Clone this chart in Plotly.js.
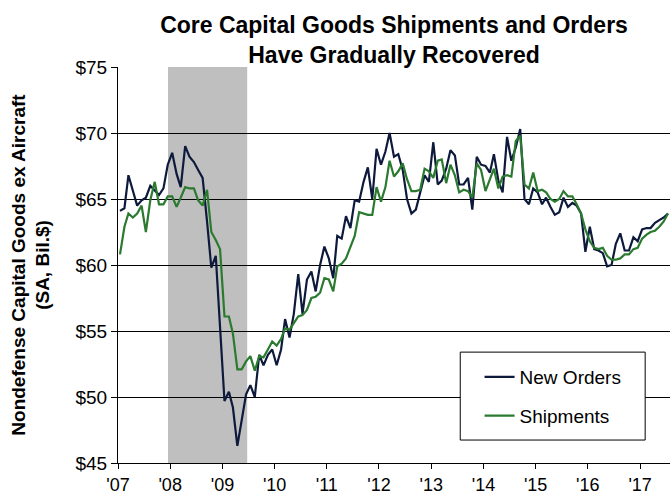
<!DOCTYPE html>
<html>
<head>
<meta charset="utf-8">
<script src="https://cdn.plot.ly/plotly-3.0.1.min.js"></script>
<style>html,body{margin:0;padding:0;background:#fff;}#chart{width:670px;height:497px;}</style>
</head>
<body>
<div id="chart"></div>
<script>
// Monthly observations, mid-month (Jan 2007 - Jul 2017)
var months = [
'2007-01-15','2007-02-15','2007-03-15','2007-04-15','2007-05-15','2007-06-15','2007-07-15','2007-08-15','2007-09-15','2007-10-15','2007-11-15','2007-12-15',
'2008-01-15','2008-02-15','2008-03-15','2008-04-15','2008-05-15','2008-06-15','2008-07-15','2008-08-15','2008-09-15','2008-10-15','2008-11-15','2008-12-15',
'2009-01-15','2009-02-15','2009-03-15','2009-04-15','2009-05-15','2009-06-15','2009-07-15','2009-08-15','2009-09-15','2009-10-15','2009-11-15','2009-12-15',
'2010-01-15','2010-02-15','2010-03-15','2010-04-15','2010-05-15','2010-06-15','2010-07-15','2010-08-15','2010-09-15','2010-10-15','2010-11-15','2010-12-15',
'2011-01-15','2011-02-15','2011-03-15','2011-04-15','2011-05-15','2011-06-15','2011-07-15','2011-08-15','2011-09-15','2011-10-15','2011-11-15','2011-12-15',
'2012-01-15','2012-02-15','2012-03-15','2012-04-15','2012-05-15','2012-06-15','2012-07-15','2012-08-15','2012-09-15','2012-10-15','2012-11-15','2012-12-15',
'2013-01-15','2013-02-15','2013-03-15','2013-04-15','2013-05-15','2013-06-15','2013-07-15','2013-08-15','2013-09-15','2013-10-15','2013-11-15','2013-12-15',
'2014-01-15','2014-02-15','2014-03-15','2014-04-15','2014-05-15','2014-06-15','2014-07-15','2014-08-15','2014-09-15','2014-10-15','2014-11-15','2014-12-15',
'2015-01-15','2015-02-15','2015-03-15','2015-04-15','2015-05-15','2015-06-15','2015-07-15','2015-08-15','2015-09-15','2015-10-15','2015-11-15','2015-12-15',
'2016-01-15','2016-02-15','2016-03-15','2016-04-15','2016-05-15','2016-06-15','2016-07-15','2016-08-15','2016-09-15','2016-10-15','2016-11-15','2016-12-15',
'2017-01-15','2017-02-15','2017-03-15','2017-04-15','2017-05-15','2017-06-15','2017-07-15'
];

// Core capital goods new orders, SA, $ billions
var newOrders = [
64.1,64.3,66.8,65.7,64.5,64.9,65.1,66.0,65.6,65.3,65.8,67.6,
68.5,66.9,65.9,69.0,68.2,67.8,67.2,66.6,63.3,59.8,60.7,55.5,
49.7,50.4,49.2,46.3,48.4,50.2,50.9,50.0,53.2,52.4,53.2,53.6,
52.4,53.6,55.9,54.5,56.3,59.3,56.3,58.9,59.5,58.0,60.0,61.4,
60.5,59.0,62.2,62.0,63.7,62.8,64.9,64.8,66.3,67.4,65.0,68.8,
67.6,68.6,70.0,68.2,68.4,67.2,65.0,63.9,64.2,65.5,66.8,66.3,
69.3,66.1,66.4,67.3,68.7,68.3,66.1,66.1,66.6,64.2,68.2,67.6,
67.5,67.0,68.4,66.4,65.5,69.7,67.9,68.9,70.3,65.0,64.6,65.8,
65.5,64.6,65.1,64.4,63.8,64.0,65.1,64.4,64.7,64.5,63.9,61.0,
62.9,61.2,61.1,60.9,59.9,60.0,61.6,62.4,61.1,61.1,62.1,61.8,
62.7,62.8,62.8,63.2,63.4,63.6,63.9
];

// Core capital goods shipments, SA, $ billions
var shipments = [
60.8,62.9,63.9,63.6,63.9,64.5,62.5,64.9,66.3,64.6,64.6,65.2,
65.2,64.4,65.1,65.9,65.8,65.8,64.9,64.5,65.7,62.5,61.9,61.2,
56.1,56.1,54.8,52.1,52.1,52.7,53.1,52.0,53.1,53.0,53.6,54.2,
53.9,54.4,55.2,55.1,55.6,56.1,56.2,56.6,57.5,57.6,57.9,59.0,
58.9,58.0,59.9,60.1,60.5,61.4,62.2,64.0,63.9,63.8,63.8,65.9,
64.8,65.9,67.9,66.7,67.1,67.7,66.5,65.6,65.6,65.7,67.3,67.1,
66.6,67.9,68.0,66.2,67.6,66.8,65.5,65.7,65.6,65.1,67.7,67.2,
65.6,66.5,67.3,65.8,66.7,66.8,66.7,69.4,69.8,66.1,65.8,67.0,
65.6,65.7,65.5,65.0,64.8,65.0,65.6,65.2,65.2,64.6,63.9,62.7,
61.8,61.3,61.2,61.3,60.7,60.4,60.4,60.5,60.8,60.8,61.2,61.3,
62.0,62.3,62.5,62.6,62.9,63.3,63.9
];

var seriesNames = ['New Orders', 'Shipments'];
var yTickVals = [45, 50, 55, 60, 65, 70, 75];
var yTickText = ['$45', '$50', '$55', '$60', '$65', '$70', '$75'];
var xTickVals = ['2007-01-01','2008-01-01','2009-01-01','2010-01-01','2011-01-01','2012-01-01','2013-01-01','2014-01-01','2015-01-01','2016-01-01','2017-01-01'];
var xTickText = ["'07","'08","'09","'10","'11","'12","'13","'14","'15","'16","'17"];
var recession = ['2007-12-17', '2009-06-23'];
var xRange = ['2007-01-01', '2017-07-29'];

var FONT = 'Liberation Sans, Arial, sans-serif';

var traces = [
  {x: months, y: newOrders, name: seriesNames[0], type: 'scatter', mode: 'lines',
   line: {color: '#0d1a3c', width: 2.2}, legendgroup: 'a'},
  {x: months, y: shipments, name: seriesNames[1], type: 'scatter', mode: 'lines',
   line: {color: '#2a7a2f', width: 2.2}, legendgroup: 'b'}
];

var layout = {
  width: 670, height: 497,
  margin: {l: 118, r: 0, t: 67, b: 34},
  paper_bgcolor: '#ffffff', plot_bgcolor: '#ffffff',
  font: {family: FONT, color: '#000000'},
  title: {
    text: '<b>Core Capital Goods Shipments and Orders<br>Have Gradually Recovered</b>',
    font: {family: FONT, size: 23, color: '#000000'},
    x: 0.5, xref: 'paper', xanchor: 'center',
    y: 1, yref: 'container', yanchor: 'top', pad: {t: 33}
  },
  xaxis: {
    type: 'date', range: xRange,
    tickvals: xTickVals, ticktext: xTickText,
    ticks: 'outside', ticklen: 5, tickcolor: '#000', tickwidth: 1,
    showgrid: false, zeroline: false,
    showline: true, linecolor: '#000', linewidth: 1,
    tickfont: {family: FONT, size: 18, color: '#000'}
  },
  yaxis: {
    range: [45, 75], tickvals: yTickVals, ticktext: yTickText,
    ticks: 'outside', ticklen: 6, tickcolor: '#000', tickwidth: 1,
    showgrid: true, gridcolor: '#000000', gridwidth: 1,
    zeroline: false, showline: true, linecolor: '#000', linewidth: 1,
    tickfont: {family: FONT, size: 19, color: '#000'},
    title: {text: '<b>Nondefense Capital Goods ex Aircraft<br>(SA, Bil.$)</b>',
            font: {family: FONT, size: 19, color: '#000'}, standoff: 20}
  },
  showlegend: true,
  legend: {
    x: 0.655, y: 0.265, xanchor: 'left', yanchor: 'top',
    bgcolor: 'rgba(0,0,0,0)', borderwidth: 0,
    font: {family: FONT, size: 19, color: '#000'},
    tracegroupgap: 11, itemwidth: 30
  },
  shapes: [
    {type: 'rect', xref: 'x', yref: 'paper', x0: recession[0], x1: recession[1], y0: 0, y1: 1,
     fillcolor: '#bfbfbf', line: {width: 0}, layer: 'between'},
    {type: 'rect', xref: 'paper', yref: 'paper', x0: 0.62, x1: 0.955, y0: 0.058, y1: 0.28,
     fillcolor: '#ffffff', line: {color: '#000', width: 1}, layer: 'above'}
  ]
};

Plotly.newPlot('chart', traces, layout, {displayModeBar: false, staticPlot: true});
</script>
</body>
</html>
